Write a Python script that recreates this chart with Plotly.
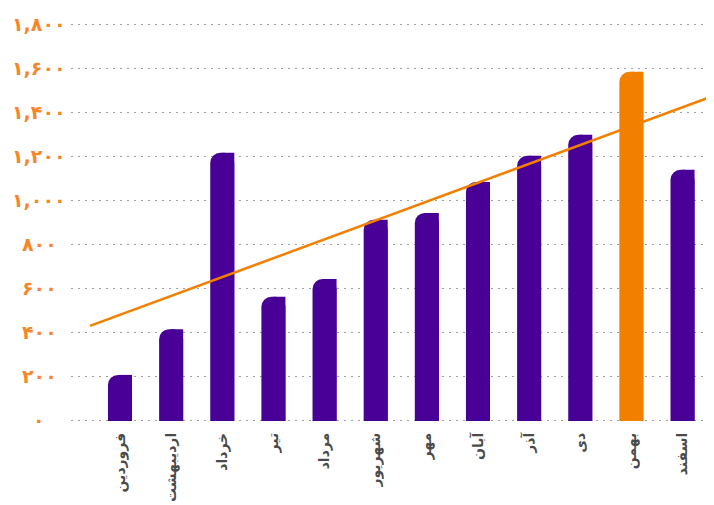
import numpy as np
import plotly.graph_objects as go

months = ["فروردین", "اردیبهشت", "خرداد", "تیر", "مرداد", "شهریور",
          "مهر", "آبان", "آذر", "دی", "بهمن", "اسفند"]
values = [209, 417, 1218, 564, 645, 914, 945, 1086, 1205, 1300, 1586, 1141]
highlight = "بهمن"
# trend line values at the first and last month
trend_first = 482
trend_last = 1425
y_ticks = [0, 200, 400, 600, 800, 1000, 1200, 1400, 1600, 1800]
y_tick_labels = ["۰", "۲۰۰", "۴۰۰", "۶۰۰", "۸۰۰", "۱,۰۰۰", "۱,۲۰۰", "۱,۴۰۰", "۱,۶۰۰", "۱,۸۰۰"]

PURPLE = "#480096"
ORANGE = "#F27F00"
LABEL_ORANGE = "#F7862A"
colors = [ORANGE if m == highlight else PURPLE for m in months]
xs = np.arange(len(months))
x_range = [-0.958, 11.596]

bw = 0.47
fig = go.Figure()
fig.add_trace(go.Bar(x=xs, y=values, width=bw, offset=-bw / 2,
                     marker=dict(color=colors, cornerradius=10, line=dict(width=0)),
                     hoverinfo="skip"))
fig.add_trace(go.Bar(x=xs, y=values, width=bw / 2, offset=0,
                     marker=dict(color=colors, line=dict(width=0)),
                     hoverinfo="skip"))

slope = (trend_last - trend_first) / (len(months) - 1)
tx = np.array([-0.587, x_range[1] + 0.2])
fig.add_trace(go.Scatter(x=tx, y=trend_first + slope * tx, mode="lines",
                         line=dict(color=ORANGE, width=2.5), hoverinfo="skip"))

# centred y tick labels
for v, lab in zip(y_ticks, y_tick_labels):
    fig.add_annotation(x=-0.0498, xref="paper", y=v, yref="y", text=lab,
                       showarrow=False, xanchor="center", yanchor="middle", yshift=1,
                       font=dict(family="DejaVu Sans", size=19, color=LABEL_ORANGE, weight="bold"))

fig.update_layout(
    template="none",
    width=714, height=505,
    margin=dict(l=63, r=9, t=15, b=91, pad=0),
    paper_bgcolor="white", plot_bgcolor="white",
    barmode="overlay", showlegend=False,
    xaxis=dict(range=x_range, tickmode="array", tickvals=xs, ticktext=months,
               tickangle=-90, showgrid=False, zeroline=False, showline=False,
               automargin=False, ticks="", ticklabelstandoff=7,
               tickfont=dict(family="DejaVu Sans", size=14, color="#4a4a4a", weight="bold")),
    yaxis=dict(range=[-5, 1808], tickmode="array", tickvals=y_ticks,
               showticklabels=False,
               showgrid=True, gridcolor="#a0a0a0", griddash="2px,5px", gridwidth=1,
               zeroline=False, showline=False, ticks="", automargin=False),
)
fig.write_html("out.html")
